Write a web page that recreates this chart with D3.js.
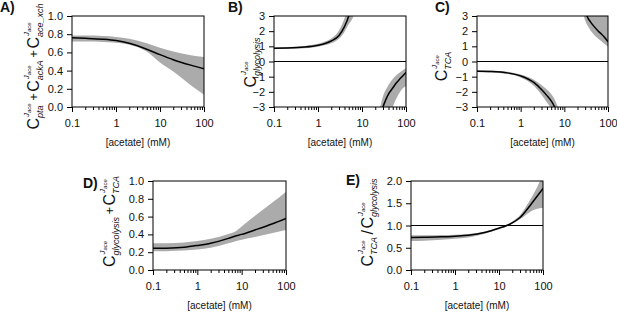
<!DOCTYPE html>
<html><head><meta charset="utf-8">
<script src="https://cdn.jsdelivr.net/npm/d3@7"></script>
<style>
body{margin:0;background:#fff}
svg{display:block}
text{font-family:"Liberation Sans",Arial,sans-serif;fill:#111}
</style>
</head><body><svg id="c" width="617" height="312"></svg>
<script>
// ---------- data ----------
const xMajor = [0.1, 1, 10, 100];
const xMinor = [0.2,0.3,0.4,0.5,0.6,0.7,0.8,0.9,2,3,4,5,6,7,8,9,20,30,40,50,60,70,80,90];
const xTitle = "[acetate] (mM)";

// A) sum of pta + ackA + ace_xch control coefficients
const aConc  = [0.1, 0.2, 0.5, 1, 2, 5, 10, 20, 50, 100];
const aMean  = [0.76, 0.755, 0.745, 0.73, 0.70, 0.635, 0.575, 0.52, 0.46, 0.42];
const aHigh  = [0.785, 0.785, 0.78, 0.77, 0.75, 0.70, 0.65, 0.61, 0.57, 0.55];
const aLow   = [0.72, 0.72, 0.715, 0.705, 0.685, 0.61, 0.49, 0.39, 0.24, 0.135];
const aTicks = [0, 0.2, 0.4, 0.6, 0.8, 1.0];

// B) glycolysis (two branches)
const bConc1 = [0.1, 0.2, 0.5, 1, 1.5, 2, 3, 4, 5, 6, 7];
const bMean1 = [0.88, 0.89, 0.95, 1.07, 1.2, 1.35, 1.72, 2.3, 3.0, 3.9, 5.0];
const bHigh1 = [0.93, 0.95, 1.02, 1.17, 1.33, 1.52, 2.05, 2.85, 3.8, 5.0, 7.0];
const bLow1  = [0.83, 0.84, 0.88, 0.98, 1.08, 1.2, 1.5, 1.95, 2.45, 2.8, 3.3];
const bConc2 = [22, 25, 30, 35, 40, 50, 60, 70, 80, 100];
const bMean2 = [-5.0, -4.0, -3.0, -2.5, -2.15, -1.75, -1.42, -1.2, -1.02, -0.72];
const bHigh2 = [-4.0, -3.2, -2.3, -1.85, -1.55, -1.15, -0.9, -0.75, -0.63, -0.45];
const bLow2  = [-8.0, -7.0, -6.0, -4.8, -4.0, -3.0, -2.45, -2.1, -1.85, -1.62];
const bcTicks = [-3, -2, -1, 0, 1, 2, 3];

// C) TCA (two branches)
const cConc1 = [0.1, 0.2, 0.5, 1, 2, 3, 4, 5, 6, 7, 8];
const cMean1 = [-0.64, -0.66, -0.75, -0.95, -1.38, -1.85, -2.25, -2.6, -3.0, -3.5, -4.0];
const cHigh1 = [-0.58, -0.6, -0.68, -0.85, -1.2, -1.55, -1.85, -2.15, -2.5, -2.95, -3.3];
const cLow1  = [-0.7, -0.72, -0.82, -1.05, -1.6, -2.2, -2.7, -3.1, -3.6, -4.3, -5.0];
const cConc2 = [25, 28, 30, 35, 40, 50, 60, 70, 80, 100];
const cMean2 = [4.2, 3.6, 3.3, 2.85, 2.6, 2.25, 2.0, 1.82, 1.65, 1.3];
const cHigh2 = [8.0, 8.0, 7.0, 6.0, 5.5, 5.0, 4.6, 4.2, 3.9, 3.5];
const cLow2  = [3.6, 3.0, 2.7, 2.3, 2.05, 1.7, 1.5, 1.35, 1.2, 0.97];

// D) glycolysis + TCA
const dConc  = [0.1, 0.2, 0.5, 1, 2, 5, 7, 10, 20, 50, 100];
const dMean  = [0.243, 0.245, 0.255, 0.275, 0.30, 0.355, 0.38, 0.40, 0.45, 0.52, 0.58];
const dHigh  = [0.30, 0.30, 0.31, 0.325, 0.35, 0.405, 0.43, 0.49, 0.61, 0.76, 0.88];
const dLow   = [0.21, 0.212, 0.218, 0.23, 0.25, 0.30, 0.32, 0.34, 0.37, 0.415, 0.45];
const dTicks = [0, 0.2, 0.4, 0.6, 0.8, 1.0];

// E) TCA / glycolysis
const eConc  = [0.1, 0.2, 0.5, 1, 2, 5, 10, 15, 20, 30, 50, 70, 100];
const eMean  = [0.73, 0.735, 0.745, 0.76, 0.78, 0.85, 0.94, 1.0, 1.06, 1.18, 1.44, 1.63, 1.83];
const eHigh  = [0.78, 0.78, 0.785, 0.79, 0.81, 0.87, 0.96, 1.02, 1.09, 1.23, 1.56, 1.82, 2.15];
const eLow   = [0.65, 0.66, 0.68, 0.70, 0.73, 0.82, 0.92, 0.98, 1.04, 1.14, 1.30, 1.37, 1.40];
const eTicks = [0, 0.5, 1.0, 1.5, 2.0];

// ---------- drawing ----------
const svg = d3.select("#c");
const zip = (c, m, h, l) => c.map((v, i) => ({c: v, m: m[i], h: h[i], l: l[i]}));

function yLabel(terms, cx, cy) {
  const g = svg.append("g");
  let x = 0;
  terms.forEach(t => {
    if (t.op) {
      const tx = g.append("text").attr("x", x + 1.5).attr("y", t.op === "/" ? 0 : -1)
        .attr("font-size", t.op === "/" ? 16 : 13).text(t.op);
      x += tx.node().getComputedTextLength() + 3;
    } else {
      const c = g.append("text").attr("x", x).attr("y", 0).attr("font-size", 16).text("C");
      x += c.node().getComputedTextLength();
      const sup = g.append("text").attr("x", x + 1).attr("y", -10).attr("font-size", 8).attr("font-style", "italic");
      sup.append("tspan").text("J");
      sup.append("tspan").attr("font-size", 6).attr("dy", 2).text("ace");
      const sub = g.append("text").attr("x", x).attr("y", 4).attr("font-size", 9).attr("font-style", "italic").text(t.sub);
      x += Math.max(sup.node().getComputedTextLength() + 1, sub.node().getComputedTextLength()) + 1;
    }
  });
  g.attr("transform", `translate(${cx},${cy}) rotate(-90) translate(${-x / 2},0)`);
}

let clipId = 0;
function panel(p) {
  const x = d3.scaleLog().domain([0.1, 100]).range([p.x0, p.x1]);
  const y = d3.scaleLinear().domain(p.ydom).range([p.y1, p.y0]);
  const id = "clip" + (clipId++);
  svg.append("clipPath").attr("id", id).append("rect")
    .attr("x", p.x0).attr("y", p.y0).attr("width", p.x1 - p.x0).attr("height", p.y1 - p.y0);
  const g = svg.append("g").attr("clip-path", `url(#${id})`);
  const area = d3.area().x(d => x(d.c)).y0(d => y(d.l)).y1(d => y(d.h)).curve(d3.curveMonotoneX);
  const line = d3.line().x(d => x(d.c)).y(d => y(d.m)).curve(d3.curveMonotoneX);
  p.series.forEach(s => g.append("path").attr("d", area(s)).attr("fill", "#ababab"));
  if (p.ref !== undefined) {
    svg.append("line").attr("x1", p.x0).attr("x2", p.x1).attr("y1", y(p.ref)).attr("y2", y(p.ref))
      .attr("stroke", "#000").attr("stroke-width", 1.1);
  }
  p.series.forEach(s => g.append("path").attr("d", line(s)).attr("fill", "none")
    .attr("stroke", "#000").attr("stroke-width", 1.5));
  svg.append("rect").attr("x", p.x0).attr("y", p.y0).attr("width", p.x1 - p.x0).attr("height", p.y1 - p.y0)
    .attr("fill", "none").attr("stroke", "#000").attr("stroke-width", 1);

  const ax = svg.append("g").attr("transform", `translate(0,${p.y1})`)
    .call(d3.axisBottom(x).tickValues(xMajor).tickSize(5).tickPadding(7).tickFormat(d3.format("")));
  ax.select(".domain").remove();
  ax.selectAll("text").attr("font-size", 11).attr("font-family", null);
  const axm = svg.append("g").attr("transform", `translate(0,${p.y1})`)
    .call(d3.axisBottom(x).tickValues(xMinor).tickSize(3).tickFormat(""));
  axm.select(".domain").remove();

  const ay = svg.append("g").attr("transform", `translate(${p.x0},0)`)
    .call(d3.axisLeft(y).tickValues(p.yticks).tickSize(5).tickPadding(4).tickFormat(p.yfmt));
  ay.select(".domain").remove();
  ay.selectAll("text").attr("font-size", 11).attr("font-family", null);

  svg.append("text").attr("x", (p.x0 + p.x1) / 2).attr("y", p.y1 + 39).attr("text-anchor", "middle")
    .attr("font-size", 10).text(xTitle);
  svg.append("text").attr("x", p.lx).attr("y", p.ly).attr("font-size", 14)
    .attr("font-weight", "bold").text(p.letter);
  yLabel(p.label, p.cx, p.cy);
}

const f1 = d3.format(".1f"), fi = d3.format("d");
panel({x0: 72, x1: 204, y0: 16, y1: 107, ydom: [0, 1], yticks: aTicks, yfmt: f1,
  series: [zip(aConc, aMean, aHigh, aLow)], letter: "A)", lx: 0, ly: 12,
  label: [{sub: "pta"}, {op: "+"}, {sub: "ackA"}, {op: "+"}, {sub: "ace_xch"}], cx: 39, cy: 66});
panel({x0: 274, x1: 406, y0: 16, y1: 107, ydom: [-3, 3], yticks: bcTicks, yfmt: fi, ref: 0,
  series: [zip(bConc1, bMean1, bHigh1, bLow1), zip(bConc2, bMean2, bHigh2, bLow2)], letter: "B)", lx: 228, ly: 12,
  label: [{sub: "glycolysis"}], cx: 256, cy: 62});
panel({x0: 477, x1: 608, y0: 16, y1: 107, ydom: [-3, 3], yticks: bcTicks, yfmt: fi, ref: 0,
  series: [zip(cConc1, cMean1, cHigh1, cLow1), zip(cConc2, cMean2, cHigh2, cLow2)], letter: "C)", lx: 435, ly: 12,
  label: [{sub: "TCA"}], cx: 447, cy: 66});
panel({x0: 153, x1: 286, y0: 181, y1: 270, ydom: [0, 1], yticks: dTicks, yfmt: f1,
  series: [zip(dConc, dMean, dHigh, dLow)], letter: "D)", lx: 83, ly: 188,
  label: [{sub: "glycolysis"}, {op: "+"}, {sub: "TCA"}], cx: 115, cy: 221});
panel({x0: 411, x1: 543, y0: 181, y1: 270, ydom: [0, 2], yticks: eTicks, yfmt: f1, ref: 1,
  series: [zip(eConc, eMean, eHigh, eLow)], letter: "E)", lx: 346, ly: 185,
  label: [{sub: "TCA"}, {op: "/"}, {sub: "glycolysis"}], cx: 373, cy: 222});
</script></body></html>
